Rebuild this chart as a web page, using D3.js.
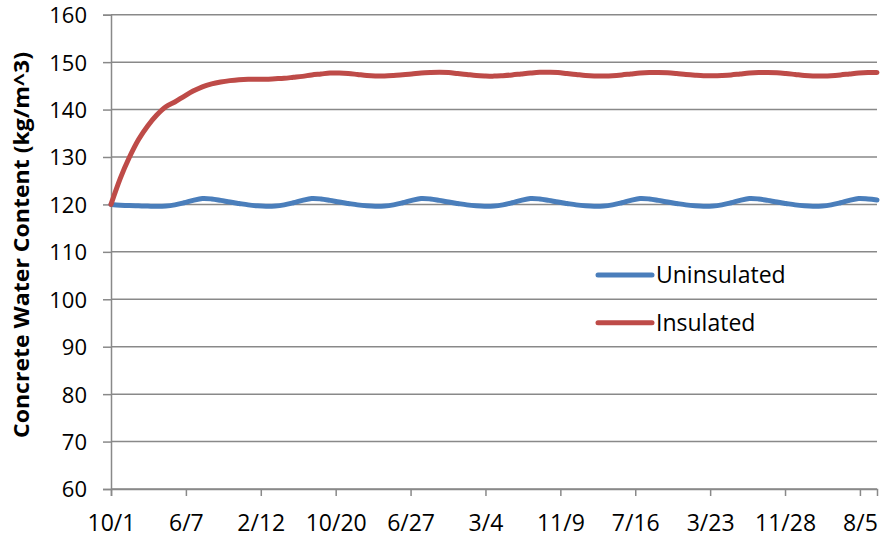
<!DOCTYPE html>
<html>
<head>
<meta charset="utf-8">
<script src="https://cdn.jsdelivr.net/npm/d3@7.9.0/dist/d3.min.js"></script>
<style>
  body { margin: 0; background: #fff; }
  svg text { font-family: "Open Sans", sans-serif; fill: #000; }
</style>
</head>
<body>
<svg id="chart" width="882" height="537"></svg>
<script>
// Monthly readings, first of each month, starting 10/1/2011
const startDate = '2011-10-01';
const endDate = '2018-10-01';

// Uninsulated concrete water content (kg/m^3)
const uninsulated = [
  120.0, 119.85, 119.75, 119.7, 119.65, 119.6, 119.65, 119.9, 120.35, 120.85, 121.25, 121.15,
  120.85, 120.5, 120.2, 119.9, 119.7, 119.6, 119.65, 119.9, 120.35, 120.85, 121.25, 121.15,
  120.85, 120.5, 120.2, 119.9, 119.7, 119.6, 119.65, 119.9, 120.35, 120.85, 121.25, 121.15,
  120.85, 120.5, 120.2, 119.9, 119.7, 119.6, 119.65, 119.9, 120.35, 120.85, 121.25, 121.15,
  120.85, 120.5, 120.2, 119.9, 119.7, 119.6, 119.65, 119.9, 120.35, 120.85, 121.25, 121.15,
  120.85, 120.5, 120.2, 119.9, 119.7, 119.6, 119.65, 119.9, 120.35, 120.85, 121.25, 121.15,
  120.85, 120.5, 120.2, 119.9, 119.7, 119.6, 119.65, 119.9, 120.35, 120.85, 121.25, 121.15,
  120.95
];

// Insulated concrete water content (kg/m^3)
const insulated = [
  120.0, 125.5, 129.9, 133.7, 136.6, 138.8, 140.6, 141.6, 142.8, 143.9, 144.8, 145.4,
  145.8, 146.1, 146.3, 146.4, 146.4, 146.4, 146.5, 146.6, 146.8, 147.0, 147.3, 147.5,
  147.7, 147.7, 147.6, 147.4, 147.2, 147.1, 147.1, 147.2, 147.35, 147.5, 147.7, 147.8,
  147.85, 147.8, 147.6, 147.4, 147.2, 147.1, 147.05, 147.15, 147.3, 147.5, 147.7, 147.85,
  147.85, 147.8, 147.6, 147.4, 147.2, 147.1, 147.1, 147.15, 147.3, 147.5, 147.7, 147.8,
  147.8, 147.75, 147.6, 147.4, 147.25, 147.15, 147.15, 147.2, 147.3, 147.5, 147.7, 147.8,
  147.8, 147.75, 147.6, 147.4, 147.2, 147.1, 147.1, 147.15, 147.3, 147.5, 147.7, 147.8,
  147.8
];

// x axis tick dates (every 250 days)
const tickDates = [
  '2011-10-01', '2012-06-07', '2013-02-12', '2013-10-20', '2014-06-27', '2015-03-04',
  '2015-11-09', '2016-07-16', '2017-03-23', '2017-11-28', '2018-08-05'
];
const yTicks = [60, 70, 80, 90, 100, 110, 120, 130, 140, 150, 160];

const seriesNames = ['Uninsulated', 'Insulated'];
const seriesColors = ['#4a7ebb', '#be4b48'];

const parse = d3.utcParse('%Y-%m-%d');
const start = parse(startDate);
const dates = uninsulated.map((_, i) => d3.utcMonth.offset(start, i));

const margin = { left: 111, right: 5, top: 14.7, bottom: 48 };
const width = 882, height = 537;

const x = d3.scaleUtc()
  .domain([start, parse(endDate)])
  .range([margin.left, width - margin.right]);
const y = d3.scaleLinear()
  .domain([60, 160])
  .range([height - margin.bottom, margin.top]);

const svg = d3.select('#chart');
const gridColor = '#898989';

// horizontal gridlines
svg.append('g')
  .selectAll('line')
  .data(yTicks)
  .join('line')
  .attr('x1', margin.left)
  .attr('x2', width - margin.right)
  .attr('y1', d => y(d))
  .attr('y2', d => y(d))
  .attr('stroke', gridColor)
  .attr('stroke-width', 1.5);

// y axis
const yAxis = svg.append('g')
  .attr('transform', `translate(${margin.left},0)`)
  .call(d3.axisLeft(y).tickValues(yTicks).tickSize(8).tickPadding(16));
yAxis.select('.domain').attr('stroke', gridColor).attr('stroke-width', 1.5);
yAxis.selectAll('.tick line').attr('stroke', gridColor).attr('stroke-width', 1.5);
yAxis.selectAll('.tick text')
  .style('font-size', '22px')
  .attr('dy', '0.36em');

// x axis
const xAxis = svg.append('g')
  .attr('transform', `translate(0,${y(60)})`)
  .call(d3.axisBottom(x)
    .tickValues(tickDates.map(parse))
    .tickFormat(d3.utcFormat('%-m/%-d'))
    .tickSize(7)
    .tickPadding(19));
xAxis.select('.domain').attr('stroke', gridColor).attr('stroke-width', 1.5);
xAxis.selectAll('.tick line').attr('stroke', gridColor).attr('stroke-width', 1.5);
xAxis.selectAll('.tick text').style('font-size', '23px');

// y axis title
svg.append('text')
  .attr('transform', 'translate(29,245) rotate(-90)')
  .attr('text-anchor', 'middle')
  .attr('textLength', 386)
  .attr('lengthAdjust', 'spacingAndGlyphs')
  .style('font-size', '21px')
  .style('font-weight', 'bold')
  .text('Concrete Water Content (kg/m^3)');

// lines
const line = d3.line()
  .x(d => x(d[0]))
  .y(d => y(d[1]))
  .curve(d3.curveCatmullRom.alpha(0.5));

[uninsulated, insulated].forEach((vals, i) => {
  svg.append('path')
    .datum(vals.map((v, j) => [dates[j], v]))
    .attr('d', line)
    .attr('fill', 'none')
    .attr('stroke', seriesColors[i])
    .attr('stroke-width', 5)
    .attr('stroke-linecap', 'round')
    .attr('stroke-linejoin', 'round');
});

// legend
const legend = svg.append('g').attr('transform', 'translate(598,275)');
seriesNames.forEach((name, i) => {
  const g = legend.append('g').attr('transform', `translate(0,${i * 47.7})`);
  g.append('line')
    .attr('x1', 0).attr('x2', 54)
    .attr('stroke', seriesColors[i])
    .attr('stroke-width', 5)
    .attr('stroke-linecap', 'round');
  g.append('text')
    .attr('x', 58)
    .attr('dy', '0.35em')
    .style('font-size', '23px')
    .text(name);
});
</script>
</body>
</html>
